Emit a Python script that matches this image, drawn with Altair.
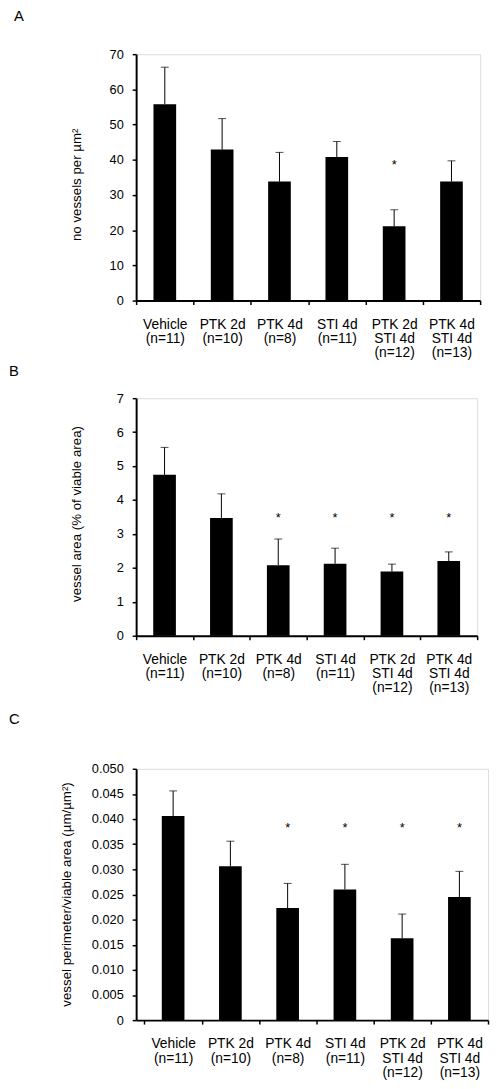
import altair as alt
import pandas as pd

FONT = "Liberation Sans"

groups = ["Vehicle|(n=11)", "PTK 2d|(n=10)", "PTK 4d|(n=8)", "STI 4d|(n=11)",
          "PTK 2d|STI 4d|(n=12)", "PTK 4d|STI 4d|(n=13)"]

# Panel A: number of vessels per µm²
a_mean = [55.8, 42.9, 33.8, 40.8, 21.1, 33.8]
a_sem = [10.5, 8.8, 8.3, 4.4, 4.7, 5.9]
a_star = [None, None, None, None, 39.6, None]

# Panel B: vessel area (% of viable area)
b_mean = [4.74, 3.47, 2.08, 2.12, 1.89, 2.20]
b_sem = [0.81, 0.71, 0.77, 0.46, 0.22, 0.27]
b_star = [None, None, 3.59, 3.59, 3.59, 3.59]

# Panel C: vessel perimeter / viable area
c_mean = [0.0406, 0.0306, 0.0223, 0.0260, 0.0163, 0.0245]
c_sem = [0.0050, 0.0050, 0.0049, 0.0050, 0.0048, 0.0051]
c_star = [None, None, 0.039, 0.039, 0.039, 0.039]

a_ticks = [0, 10, 20, 30, 40, 50, 60, 70]
b_ticks = [0, 1, 2, 3, 4, 5, 6, 7]
c_ticks = [0, 0.005, 0.01, 0.015, 0.02, 0.025, 0.03, 0.035, 0.04, 0.045, 0.05]


def panel(letter, mean, sem, star, ticks, ytitle, width, height, title_x, title_y,
          letter_x, letter_y, label_expr=None, pad_outer=0.0):
    df = pd.DataFrame({
        "group": groups,
        "mean": mean,
        "upper": [m + s for m, s in zip(mean, sem)],
    })
    sdf = pd.DataFrame({"group": groups, "star": star}).dropna()

    xscale = alt.Scale(domain=groups, paddingInner=0, paddingOuter=pad_outer, align=1)
    xaxis = alt.Axis(title=None, labelAngle=0, tickBand="extent",
                     labelExpr="datum.value ? split(datum.value, '|') : ''",
                     labelLineHeight=14.5, labelFontSize=14, labelPadding=13, tickSize=4,
                     domainWidth=2, tickWidth=1.5, domainColor="black",
                     tickColor="black", labelColor="black", labelFont=FONT)
    yaxis_kwargs = dict(title=ytitle, values=ticks, grid=False, tickSize=4,
                        labelPadding=9, labelFontSize=13, labelFont=FONT,
                        labelColor="black", labelOverlap=False, labelFlush=False,
                        domainWidth=2, tickWidth=1.5,
                        domainColor="black", tickColor="black",
                        titleFont=FONT, titleFontSize=13.5, titleFontWeight="normal",
                        titleColor="black", titleX=title_x, titleY=title_y)
    if label_expr:
        yaxis_kwargs["labelExpr"] = label_expr
    yaxis = alt.Axis(**yaxis_kwargs)
    yscale = alt.Scale(domain=[ticks[0], ticks[-1]], nice=False)

    def X():
        return alt.X("group:N", sort=groups, scale=xscale, axis=xaxis)

    def Y(field):
        return alt.Y(field, scale=yscale, axis=yaxis)

    bars = alt.Chart(df).mark_bar(color="black", size=23).encode(x=X(), y=Y("mean:Q"))
    err = alt.Chart(df).mark_rule(color="black", strokeWidth=1).encode(
        x=X(), y=Y("mean:Q"), y2="upper:Q")
    cap = alt.Chart(df).mark_tick(color="black", thickness=1, size=8,
                                  orient="horizontal").encode(x=X(), y=Y("upper:Q"))
    stars = alt.Chart(sdf).mark_text(text="*", fontSize=13, font=FONT, color="black",
                                     baseline="middle", dy=4).encode(
        x=X(), y=Y("star:Q"))
    label = alt.Chart(pd.DataFrame({"t": [letter]})).mark_text(
        fontSize=15, font=FONT, color="black", align="left", baseline="alphabetic"
    ).encode(text="t:N", x=alt.value(letter_x), y=alt.value(letter_y))

    return alt.layer(bars, err, cap, stars, label).properties(width=width, height=height)


pa = panel("A", a_mean, a_sem, a_star, a_ticks, "no vessels per µm²",
           349, 250, -53, 132, -124, -34)
pb = panel("B", b_mean, b_sem, b_star, b_ticks, "vessel area (% of viable area)",
           346, 241, -53, 117, -129, -22)
pc = panel("C", c_mean, c_sem, c_star, c_ticks, "vessel perimeter/viable area (µm/µm²)",
           357, 255, -64, 127, -129, -45,
           label_expr="datum.value == 0 ? '0' : format(datum.value, '.3f')",
           pad_outer=0.073)

chart = alt.vconcat(alt.vconcat(pa, pb, spacing=3), pc, spacing=16).properties(
    padding={"top": -8, "left": 0, "right": 0, "bottom": 0}
).configure_view(stroke=None).configure(font=FONT)

chart.save("out.html", embed_options={"renderer": "svg", "actions": False})
